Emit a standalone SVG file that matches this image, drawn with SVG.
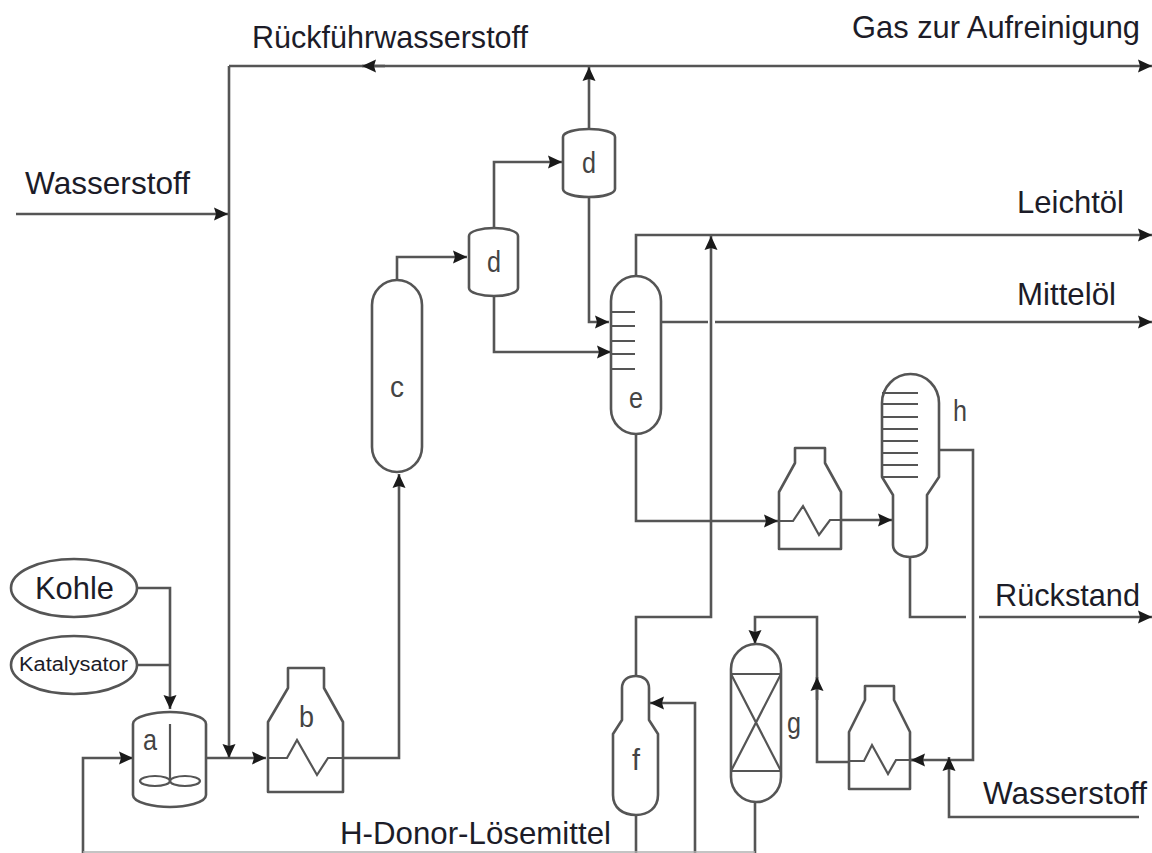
<svg xmlns="http://www.w3.org/2000/svg" width="1152" height="853" viewBox="0 0 1152 853">
<style>
text{font-family:"Liberation Sans",Arial,sans-serif;fill:#1c1c28}
.l{font-size:29px;fill:#444}
.t{font-size:32px}
.s{fill:#fff;stroke:#555;stroke-width:2.6;stroke-linejoin:round}
.i{fill:none;stroke:#555;stroke-width:2.2}
.c{fill:none;stroke:#555;stroke-width:2.6}
.a{marker-end:url(#ah)}
</style>
<defs>
<marker id="ah" markerUnits="userSpaceOnUse" markerWidth="15" markerHeight="14" refX="14" refY="7" orient="auto">
<path d="M0 0.500L14 7L0 13.500L2 7Z" fill="#1a1a1a"/>
</marker>
</defs>
<rect width="1152" height="853" fill="#fff"/>
<g id="connectors">
<path class="c a" d="M137 588H170V709"/>
<path class="c" d="M137 665H170"/>
<path class="c a" d="M83 853V758H133"/>
<path class="c a" d="M206 758H266"/>
<path class="c a" d="M229 66V758"/>
<path class="c a" d="M229 66H1152"/>
<path class="c a" d="M385 66H362"/>
<path class="c a" d="M16 214H228"/>
<path class="c a" d="M340 758H399V474"/>
<path class="c a" d="M397 279V257H467"/>
<path class="c a" d="M494 228V162H562"/>
<path class="c a" d="M589 129V67"/>
<path class="c a" d="M589 197V322H609"/>
<path class="c a" d="M494 296V352H611"/>
<path class="c a" d="M636 276V235H1152"/>
<path class="c a" d="M636 676V617H711V236"/>
<path class="c" d="M661 322H708"/>
<path class="c a" d="M715 322H1152"/>
<path class="c a" d="M636 434V521H778"/>
<path class="c a" d="M830 520H892"/>
<path class="c" d="M939 450H973V760H896"/>
<path class="c a" d="M924 760H911"/>
<path class="c a" d="M1139 817H949V757"/>
<path class="c" d="M910 557V617H966"/>
<path class="c a" d="M979 617H1152"/>
<path class="c a" d="M695 853V703H650"/>
<path class="c" d="M755 802V853"/>
<path class="c" d="M636 815V853"/>
<path class="c a" d="M865 762H817V617H755V644"/>
<path class="c a" d="M817 700V677"/>
<path d="M83 852H755" fill="none" stroke="#b0b0b0" stroke-width="1.500"/>
</g>
<g id="kohle"><ellipse class="s" cx="74" cy="588" rx="63" ry="29"/><text class="t" x="35" y="599" textLength="79" lengthAdjust="spacingAndGlyphs">Kohle</text></g>
<g id="katalysator"><ellipse class="s" cx="74" cy="665" rx="63" ry="29"/><text x="19" y="671" font-size="20" textLength="109" lengthAdjust="spacingAndGlyphs">Katalysator</text></g>
<g id="a">
<path class="s" d="M133 724V795C133 803 155 807 170 807C185 807 206 803 206 795V724C206 716 185 712 170 712C155 712 133 716 133 724Z"/>
<path class="i" d="M170 724V782"/>
<ellipse class="i" cx="155" cy="781" rx="15" ry="5"/><ellipse class="i" cx="185" cy="781" rx="15" ry="5"/>
<text class="l" x="143" y="750" textLength="14" lengthAdjust="spacingAndGlyphs">a</text>
</g>
<g id="b">
<path class="s" d="M288 668H324V688L343 722V792H268V722L288 688Z"/>
<path class="i" d="M268 758H287L297 740L317 775L328 758H343"/>
<text class="l" x="299" y="727" textLength="15" lengthAdjust="spacingAndGlyphs">b</text>
</g>
<g id="c">
<path class="s" d="M372 305A25 25 0 0 1 422 305V447A25 25 0 0 1 372 447Z"/>
<text class="l" x="390" y="397" textLength="14" lengthAdjust="spacingAndGlyphs">c</text>
</g>
<g id="d1">
<path class="s" d="M469 236V288C469 293 482 296 494 296C506 296 518 293 518 288V236C518 231 506 228 494 228C482 228 469 231 469 236Z"/>
<text class="l" x="487" y="272" textLength="14" lengthAdjust="spacingAndGlyphs">d</text>
</g>
<g id="d2">
<path class="s" d="M563 137V189C563 194 576 197 589 197C602 197 615 194 615 189V137C615 132 602 129 589 129C576 129 563 132 563 137Z"/>
<text class="l" x="582" y="173" textLength="14" lengthAdjust="spacingAndGlyphs">d</text>
</g>
<g id="e">
<path class="s" d="M611 301A25 25 0 0 1 661 301V409A25 25 0 0 1 611 409Z"/>
<path class="i" d="M611 312H635M611 326H635M611 341H635M611 354H635M611 369H635"/>
<text class="l" x="629" y="408" textLength="14" lengthAdjust="spacingAndGlyphs">e</text>
</g>
<g id="heater1">
<path class="s" d="M795 448H825V463L841 492V549H779V492L795 463Z"/>
<path class="i" d="M779 521H793L803 506L819 535L830 520H841"/>
</g>
<g id="h">
<path class="s" d="M882 403A28.500 29 0 0 1 939 403V477L927 495V545C927 553 918 557 910 557C902 557 893 553 893 545V495L882 477Z"/>
<path class="i" d="M882 393H918M882 404H918M882 417H918M882 429H918M882 441H918M882 453H918M882 465H918M882 477H918"/>
<text class="l" x="953" y="421" textLength="14" lengthAdjust="spacingAndGlyphs">h</text>
</g>
<g id="f">
<path class="s" d="M622 688C622 680 628 676 636 676C643 676 649 680 649 688V720L658 734V795C658 808 648 815 636 815C623 815 613 808 613 795V734L622 720Z"/>
<text class="l" x="632" y="770" textLength="8" lengthAdjust="spacingAndGlyphs">f</text>
</g>
<g id="g">
<path class="s" d="M731 669A25 25 0 0 1 781 669V777A25 25 0 0 1 731 777Z"/>
<path class="i" d="M731 674H781M731 771H781M731 674L781 771M781 674L731 771"/>
<text class="l" x="787" y="733" textLength="14" lengthAdjust="spacingAndGlyphs">g</text>
</g>
<g id="heater2">
<path class="s" d="M865 686H894V700L910 732V789H849V732L865 700Z"/>
<path class="i" d="M849 761H864L872 745L888 774L896 760H910"/>
</g>
<g id="labels">
<text class="t" x="852" y="38" textLength="288" lengthAdjust="spacingAndGlyphs">Gas zur Aufreinigung</text>
<text class="t" x="252" y="48" textLength="276" lengthAdjust="spacingAndGlyphs">Rückführwasserstoff</text>
<text class="t" x="25" y="194" textLength="165" lengthAdjust="spacingAndGlyphs">Wasserstoff</text>
<text class="t" x="1017" y="213" textLength="107" lengthAdjust="spacingAndGlyphs">Leichtöl</text>
<text class="t" x="1017" y="305" textLength="99" lengthAdjust="spacingAndGlyphs">Mittelöl</text>
<text class="t" x="995" y="606" textLength="145" lengthAdjust="spacingAndGlyphs">Rückstand</text>
<text class="t" x="983" y="804" textLength="164" lengthAdjust="spacingAndGlyphs">Wasserstoff</text>
<text class="t" x="340" y="844" textLength="271" lengthAdjust="spacingAndGlyphs">H-Donor-Lösemittel</text>
</g>
</svg>
